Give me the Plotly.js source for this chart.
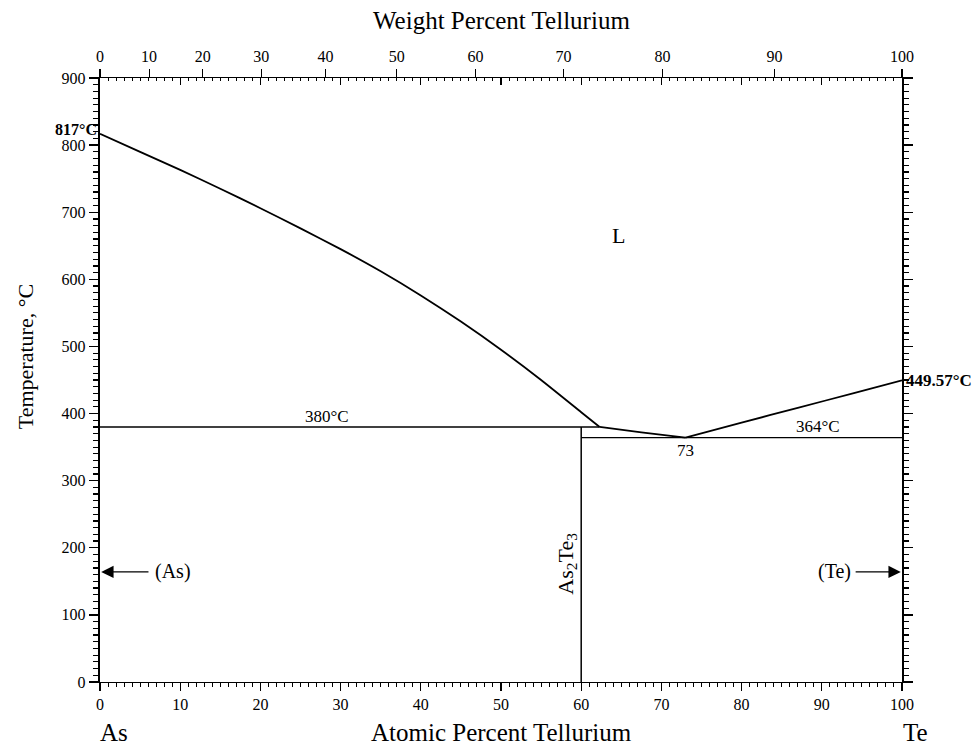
<!DOCTYPE html>
<html>
<head>
<meta charset="utf-8">
<script src="https://cdn.plot.ly/plotly-3.0.1.min.js"></script>
<style>
html,body{margin:0;padding:0;background:#fff;}
#chart{width:976px;height:748px;}
</style>
</head>
<body>
<div id="chart"></div>
<script>
// ---- Data (atomic % Te, temperature °C) ----
const liquidusAsX = [0, 5, 10, 15, 20, 25, 30, 35, 40, 45, 50, 55, 60, 62.3];
const liquidusAsT = [817, 790, 763, 735, 706, 676, 645, 612, 576, 537, 495, 450, 402, 380];

const liquidusMidX = [62.3, 67.5, 73];
const liquidusMidT = [380, 372, 364];

const liquidusTeX = [73, 80, 87, 94, 100];
const liquidusTeT = [364, 386.5, 408.5, 430.5, 449.57];

const eut380X = [0, 62.3];
const eut380T = [380, 380];

const eut364X = [60, 100];
const eut364T = [364, 364];

const compoundX = [60, 60];
const compoundT = [0, 380];

const weightTicks = [0, 10, 20, 30, 40, 50, 60, 70, 80, 90, 100];
const massAs = 74.9216, massTe = 127.60;

function atomicFromWeight(w) {
  const nTe = w / massTe, nAs = (100 - w) / massAs;
  return 100 * nTe / (nTe + nAs);
}

const serif = '"Liberation Serif", "Times New Roman", serif';
const black = '#000';

function line(x, y, w, xa, ya, shape) {
  return {
    x: x, y: y, type: 'scatter', mode: 'lines',
    line: {color: black, width: w, shape: shape || 'linear', smoothing: 0.5},
    xaxis: xa || 'x', yaxis: ya || 'y',
    hoverinfo: 'skip', showlegend: false
  };
}

const traces = [
  line(liquidusAsX, liquidusAsT, 1.8, 'x', 'y', 'spline'),
  line(liquidusMidX, liquidusMidT, 1.8, 'x', 'y', 'spline'),
  line(liquidusTeX, liquidusTeT, 1.8, 'x2', 'y', 'spline'),
  line(eut380X, eut380T, 1.5, 'x3', 'y'),
  line(eut364X, eut364T, 1.3, 'x', 'y2'),
  line(compoundX, compoundT, 1.5, 'x', 'y')
];

const tickFont = {family: serif, size: 16, color: black};

const layout = {
  width: 976, height: 748,
  margin: {l: 100, r: 74, t: 78, b: 66},
  paper_bgcolor: '#fff', plot_bgcolor: '#fff',
  showlegend: false,
  font: {family: serif, color: black},
  xaxis: {
    range: [0, 100], dtick: 10, tick0: 0,
    showgrid: false, zeroline: false,
    showline: true, linecolor: black, linewidth: 1.2,
    ticks: 'outside', ticklen: 8, tickwidth: 1.2, tickcolor: black,
    minor: {dtick: 1, ticks: 'outside', ticklen: 4, tickwidth: 1, tickcolor: black, showgrid: false},
    tickfont: tickFont, fixedrange: true
  },
  xaxis2: {
    overlaying: 'x', side: 'top', anchor: 'y',
    range: [0, 100],
    tickmode: 'array',
    tickvals: weightTicks.map(atomicFromWeight),
    ticktext: weightTicks.map(String),
    showgrid: false, zeroline: false,
    showline: true, linecolor: black, linewidth: 1.2,
    ticks: 'outside', ticklen: 8, tickwidth: 1.2, tickcolor: black,
    tickfont: tickFont, fixedrange: true
  },
  xaxis3: {
    overlaying: 'x', side: 'top', anchor: 'y',
    range: [0, 100], dtick: 10, tick0: 0,
    showgrid: false, zeroline: false, showline: false,
    ticks: 'inside', ticklen: 7, tickwidth: 1.2, tickcolor: black,
    minor: {dtick: 1, ticks: 'inside', ticklen: 3, tickwidth: 1, tickcolor: black, showgrid: false},
    showticklabels: false, fixedrange: true
  },
  yaxis: {
    range: [0, 900], dtick: 100, tick0: 0,
    showgrid: false, zeroline: false,
    showline: true, linecolor: black, linewidth: 2.2,
    ticks: 'outside', ticklen: 9, tickwidth: 1.4, tickcolor: black,
    minor: {dtick: 10, ticks: 'outside', ticklen: 5, tickwidth: 1.2, tickcolor: black, showgrid: false},
    tickfont: tickFont, fixedrange: true
  },
  yaxis2: {
    overlaying: 'y', side: 'right', anchor: 'x',
    range: [0, 900], dtick: 100, tick0: 0,
    showgrid: false, zeroline: false,
    showline: true, linecolor: black, linewidth: 2.2,
    ticks: 'outside', ticklen: 9, tickwidth: 1.4, tickcolor: black,
    minor: {dtick: 10, ticks: 'outside', ticklen: 5, tickwidth: 1.2, tickcolor: black, showgrid: false},
    showticklabels: false, fixedrange: true
  },
  annotations: [
    {xref: 'paper', yref: 'paper', x: 0.5, y: 1, yshift: 58, text: 'Weight Percent Tellurium',
     showarrow: false, font: {family: serif, size: 25, color: black}, xanchor: 'center', yanchor: 'middle'},
    {xref: 'paper', yref: 'paper', x: 0.5, y: 0, yshift: -66, text: 'Atomic Percent Tellurium',
     showarrow: false, font: {family: serif, size: 25, color: black}, xanchor: 'center', yanchor: 'bottom'},
    {xref: 'x', yref: 'paper', x: 0, y: 0, xshift: 14, yshift: -66, text: 'As',
     showarrow: false, font: {family: serif, size: 25, color: black}, xanchor: 'center', yanchor: 'bottom'},
    {xref: 'x', yref: 'paper', x: 100, y: 0, xshift: 13, yshift: -66, text: 'Te',
     showarrow: false, font: {family: serif, size: 25, color: black}, xanchor: 'center', yanchor: 'bottom'},
    {xref: 'paper', x: 0, y: 484, xshift: -75, text: 'Temperature, °C', textangle: -90, showarrow: false,
     xanchor: 'center', yanchor: 'middle', font: {family: serif, size: 22, color: black}},
    {x: 0, y: 823, xshift: -1, text: '<b>817°C</b>', showarrow: false, xanchor: 'right', yanchor: 'middle',
     font: {family: serif, size: 16, color: black}},
    {x: 100, y: 449, xshift: 2, text: '<b>449.57°C</b>', showarrow: false, xanchor: 'left', yanchor: 'middle',
     font: {family: serif, size: 17, color: black}},
    {x: 64.7, y: 665, text: 'L', showarrow: false, font: {family: serif, size: 22, color: black}},
    {x: 28.3, y: 396, text: '380°C', showarrow: false, font: {family: serif, size: 17, color: black}},
    {x: 89.5, y: 381, text: '364°C', showarrow: false, font: {family: serif, size: 17, color: black}},
    {x: 73, y: 345, text: '73', showarrow: false, font: {family: serif, size: 17, color: black}},
    {x: 58.2, y: 176, text: 'As<sub>2</sub>Te<sub>3</sub>', showarrow: false, textangle: -90,
     font: {family: serif, size: 22, color: black}},
    {x: 0.15, y: 164, ax: 9.1, ay: 164, axref: 'x', ayref: 'y', text: '(As)', showarrow: true,
     font: {family: serif, size: 20, color: black},
     arrowhead: 2, arrowsize: 1.9, arrowwidth: 1.3, arrowcolor: black, standoff: 0, startstandoff: 5},
    {x: 99.85, y: 164, ax: 91.6, ay: 164, axref: 'x', ayref: 'y', text: '(Te)', showarrow: true,
     font: {family: serif, size: 20, color: black},
     arrowhead: 2, arrowsize: 1.9, arrowwidth: 1.3, arrowcolor: black, standoff: 0, startstandoff: 3}
  ]
};

Plotly.newPlot('chart', traces, layout, {staticPlot: true, displayModeBar: false});
</script>
</body>
</html>
